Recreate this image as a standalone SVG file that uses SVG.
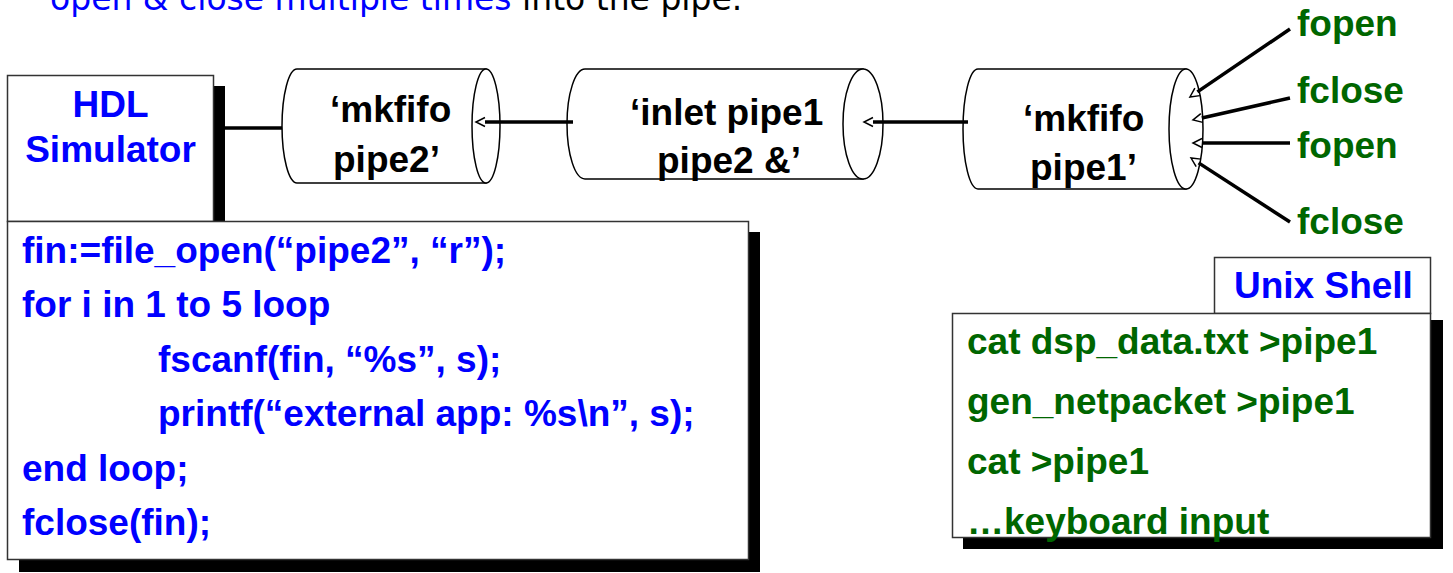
<svg xmlns="http://www.w3.org/2000/svg" width="1453" height="573" viewBox="0 0 1453 573">
<defs>
<style>
.bx{fill:#fff;stroke:#333;stroke-width:1.5}
.sh{fill:#000}
.cyl{fill:#fff;stroke:#000;stroke-width:1.5}
.t{font-family:"Liberation Sans",Arial,sans-serif;font-weight:bold;font-size:37px}
.blue{fill:#0000ff}
.green{fill:#006600}
.blk{fill:#000}
.ln{stroke:#000;stroke-width:3.5;fill:none}
</style>
<marker id="ah" markerUnits="userSpaceOnUse" markerWidth="14" markerHeight="14" viewBox="-2 -7 14 14" refX="0" refY="0" orient="auto">
<path d="M0,-4.5 L9,0 L0,4.5" fill="none" stroke="#000" stroke-width="1.5"/>
</marker>
</defs>
<rect width="1453" height="573" fill="#fff"/>
<text x="50" y="10" font-family="'DejaVu Sans',sans-serif" font-size="33" fill="#000"><tspan fill="#0000ff">open &amp; close multiple times</tspan> into the pipe.</text>

<g id="connectors">
<line class="ln" x1="225" y1="128" x2="289" y2="128"/>
</g>

<g id="hdl">
<rect class="sh" x="213" y="86" width="12" height="140"/>
<rect class="bx" x="7.5" y="75.5" width="206" height="146"/>
<text class="t blue" x="110.5" y="117" text-anchor="middle">HDL</text>
<text class="t blue" x="110.5" y="162" text-anchor="middle">Simulator</text>
</g>

<g id="code">
<rect class="sh" x="19" y="232" width="741" height="340"/>
<rect class="bx" x="7.5" y="221.5" width="741" height="338"/>
<text class="t blue" x="22" y="263">fin:=file_open(“pipe2”, “r”);</text>
<text class="t blue" x="22" y="317">for i in 1 to 5 loop</text>
<text class="t blue" x="158" y="372">fscanf(fin, “%s”, s);</text>
<text class="t blue" x="158" y="426">printf(“external app: %s\n”, s);</text>
<text class="t blue" x="22" y="481">end loop;</text>
<text class="t blue" x="22" y="535">fclose(fin);</text>
</g>

<g id="pipe2">
<path class="cyl" d="M486,69 L297,69 A15,57 0 0 0 297,183 L486,183 Z"/>
<ellipse class="cyl" cx="486" cy="126" rx="14" ry="57"/>
<text class="t blk" x="330" y="122">‘mkfifo</text>
<text class="t blk" x="333" y="172">pipe2’</text>
</g>

<g id="inlet">
<path class="cyl" d="M863,69 L585,69 A18,55 0 0 0 585,179 L863,179 Z"/>
<ellipse class="cyl" cx="863" cy="124" rx="20" ry="55"/>
<text class="t blk" x="630" y="125">‘inlet pipe1</text>
<text class="t blk" x="657" y="173">pipe2 &amp;’</text>
</g>

<g id="pipe1">
<path class="cyl" d="M1186,69 L978,69 A15,60 0 0 0 978,189 L1186,189 Z"/>
<ellipse class="cyl" cx="1186" cy="129" rx="17" ry="60"/>
<text class="t blk" x="1023" y="131">‘mkfifo</text>
<text class="t blk" x="1030" y="180">pipe1’</text>
</g>

<g id="arrows">
<line class="ln" x1="573" y1="122" x2="485" y2="122" marker-end="url(#ah)"/>
<line class="ln" x1="968" y1="122" x2="873" y2="122" marker-end="url(#ah)"/>
<line class="ln" x1="1290" y1="29" x2="1197.4" y2="91.9" marker-end="url(#ah)"/>
<line class="ln" x1="1290" y1="98" x2="1201.8" y2="118" marker-end="url(#ah)"/>
<line class="ln" x1="1290" y1="143" x2="1202" y2="143" marker-end="url(#ah)"/>
<line class="ln" x1="1290" y1="222" x2="1198.6" y2="162.9" marker-end="url(#ah)"/>
</g>

<g id="labels">
<text class="t green" x="1297" y="36">fopen</text>
<text class="t green" x="1297" y="103">fclose</text>
<text class="t green" x="1297" y="158">fopen</text>
<text class="t green" x="1297" y="234">fclose</text>
</g>

<g id="unix">
<rect class="sh" x="1225" y="268" width="18" height="281"/>
<rect class="sh" x="963" y="320" width="480" height="229"/>
<rect class="bx" x="1214.5" y="257.5" width="216" height="56"/>
<rect class="bx" x="952.5" y="313.5" width="478" height="224"/>
<text class="t blue" x="1234" y="298">Unix Shell</text>
<text class="t green" x="967" y="354">cat dsp_data.txt &gt;pipe1</text>
<text class="t green" x="967" y="414">gen_netpacket &gt;pipe1</text>
<text class="t green" x="967" y="474">cat &gt;pipe1</text>
<text class="t green" x="967" y="534">…keyboard input</text>
</g>
</svg>
